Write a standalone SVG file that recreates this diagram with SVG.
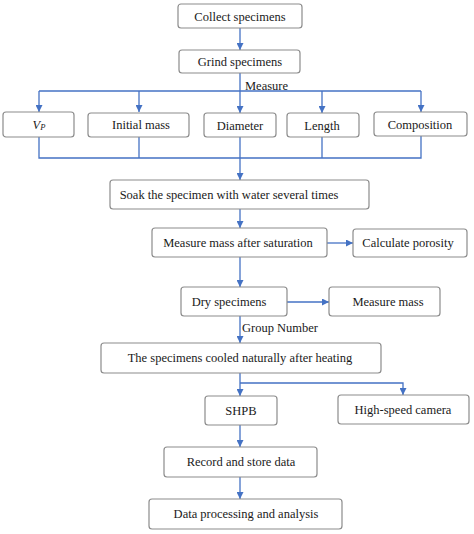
<svg xmlns="http://www.w3.org/2000/svg" width="474" height="534" viewBox="0 0 474 534">
<style>
.box{fill:#fff;stroke:#8c8c8c;stroke-width:1.2}
.t{font-size:12.5px;fill:#1a1a1a;text-anchor:middle}
.c{fill:none;stroke:#4472c4;stroke-width:1.3}
</style>
<defs>
<marker id="ah" viewBox="0 0 10 10" refX="10" refY="5" markerWidth="7" markerHeight="7" markerUnits="userSpaceOnUse" orient="auto">
<path d="M0,0 L10,5 L0,10 z" fill="#4472c4"/>
</marker>
</defs>
<rect width="474" height="534" fill="#fff"/>
<g id="connectors">
<path class="c" d="M240,28 V50" marker-end="url(#ah)"/>
<path class="c" d="M240,73 V91"/>
<path class="c" d="M39,91 H421"/>
<path class="c" d="M39,91 V112" marker-end="url(#ah)"/>
<path class="c" d="M139,91 V112" marker-end="url(#ah)"/>
<path class="c" d="M240,91 V113" marker-end="url(#ah)"/>
<path class="c" d="M322,91 V113" marker-end="url(#ah)"/>
<path class="c" d="M421,91 V112" marker-end="url(#ah)"/>
<path class="c" d="M39,137 V158 H421 V136"/>
<path class="c" d="M139,137 V158"/>
<path class="c" d="M240,137 V158"/>
<path class="c" d="M322,137 V158"/>
<path class="c" d="M240,158 V180" marker-end="url(#ah)"/>
<path class="c" d="M240,209 V228" marker-end="url(#ah)"/>
<path class="c" d="M327,243 H353" marker-end="url(#ah)"/>
<path class="c" d="M240,257 V287" marker-end="url(#ah)"/>
<path class="c" d="M287,302 H329" marker-end="url(#ah)"/>
<path class="c" d="M240,316 V343" marker-end="url(#ah)"/>
<path class="c" d="M240,373 V396" marker-end="url(#ah)"/>
<path class="c" d="M240,383 H403 V395" marker-end="url(#ah)"/>
<path class="c" d="M240,425 V447" marker-end="url(#ah)"/>
<path class="c" d="M240,477 V499" marker-end="url(#ah)"/>
</g>
<g font-family="'Liberation Serif', 'DejaVu Serif', serif">
<text class="t" x="245" y="90" style="text-anchor:start">Measure</text>
<text class="t" x="242" y="332" style="text-anchor:start">Group Number</text>
<g id="collect"><rect class="box" x="178" y="4" width="124" height="24" rx="3"/><text class="t" x="240" y="20.5">Collect specimens</text></g>
<g id="grind"><rect class="box" x="179" y="50" width="121" height="23" rx="3"/><text class="t" x="240" y="66">Grind specimens</text></g>
<g id="vp"><rect class="box" x="3" y="112" width="71" height="25" rx="3"/><text class="t" x="39" y="129" font-style="italic">V<tspan font-size="8.5" dy="1">P</tspan></text></g>
<g id="initial-mass"><rect class="box" x="88" y="113" width="101" height="24" rx="3"/><text class="t" x="141" y="129">Initial mass</text></g>
<g id="diameter"><rect class="box" x="204" y="113" width="72" height="24" rx="3"/><text class="t" x="240" y="129.5">Diameter</text></g>
<g id="length"><rect class="box" x="287" y="113" width="72" height="24" rx="3"/><text class="t" x="322" y="129.5">Length</text></g>
<g id="composition"><rect class="box" x="374" y="112" width="93" height="24" rx="3"/><text class="t" x="420" y="128.5">Composition</text></g>
<g id="soak"><rect class="box" x="110" y="180" width="259" height="29" rx="3"/><text class="t" x="229" y="199">Soak the specimen with water several times</text></g>
<g id="measure-sat"><rect class="box" x="152" y="228" width="175" height="29" rx="3"/><text class="t" x="238" y="247">Measure mass after saturation</text></g>
<g id="porosity"><rect class="box" x="353" y="229" width="114" height="28" rx="3"/><text class="t" x="408" y="247">Calculate porosity</text></g>
<g id="dry"><rect class="box" x="181" y="287" width="106" height="29" rx="3"/><text class="t" x="229" y="306">Dry specimens</text></g>
<g id="measure-mass"><rect class="box" x="329" y="287" width="111" height="29" rx="3"/><text class="t" x="388" y="306">Measure mass</text></g>
<g id="cooled"><rect class="box" x="101" y="343" width="280" height="30" rx="3"/><text class="t" x="240" y="362">The specimens cooled naturally after heating</text></g>
<g id="shpb"><rect class="box" x="205" y="396" width="72" height="29" rx="3"/><text class="t" x="241" y="415">SHPB</text></g>
<g id="camera"><rect class="box" x="338" y="395" width="131" height="29" rx="3"/><text class="t" x="403" y="414">High-speed camera</text></g>
<g id="record"><rect class="box" x="164" y="447" width="153" height="30" rx="3"/><text class="t" x="241" y="466">Record and store data</text></g>
<g id="processing"><rect class="box" x="149" y="499" width="193" height="30" rx="3"/><text class="t" x="246" y="518">Data processing and analysis</text></g>
</g>
</svg>
